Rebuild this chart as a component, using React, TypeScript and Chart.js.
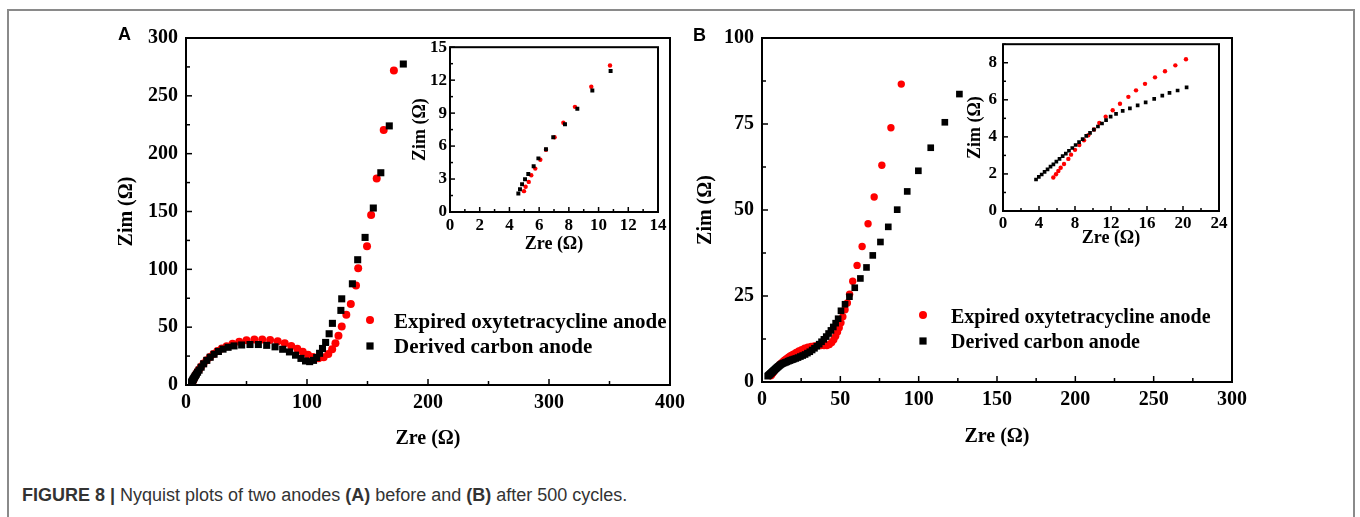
import React, { useEffect, useRef } from 'react';
import { Chart, registerables } from 'chart.js';

Chart.register(...registerables);

const SERIF = "'Liberation Serif', 'Times New Roman', Times, serif";
const SANS = "'Liberation Sans', Arial, Helvetica, sans-serif";
const RED = '#ff0000';
const BLACK = '#000000';

const seriesLabels = ['Expired oxytetracycline anode', 'Derived carbon anode'];
const xTitle = 'Zre (Ω)';
const yTitle = 'Zim (Ω)';

// ---------- Panel A (before cycling) ----------
// high-frequency points (also shown in inset A)
const aHfExpZre = [4.98, 5.09, 5.3, 5.47, 5.74, 6.08, 6.46, 7.04, 7.63, 8.41, 9.51, 10.77];
const aHfExpZim = [1.9, 2.3, 2.74, 3.34, 3.95, 4.76, 5.66, 6.8, 8.13, 9.57, 11.4, 13.34];
const aHfDerZre = [4.6, 4.71, 4.85, 5.05, 5.27, 5.63, 5.95, 6.46, 6.95, 7.74, 8.57, 9.58, 10.81];
const aHfDerZim = [1.69, 2.08, 2.53, 2.98, 3.46, 4.16, 4.88, 5.72, 6.8, 7.98, 9.4, 11.05, 12.83];
// remaining points (main plot A)
const aExpZre = [12.4, 14.5, 17, 19.8, 22.8, 26, 29.6, 33.6, 38.5, 44, 50, 56.5, 63, 69.5, 75.8, 81.6, 87, 92, 96.5, 100.8, 105, 109.5, 113.8, 117.6, 120.8, 123.5, 126, 128.7, 132.5, 136.2, 140.5, 142.3, 149.6, 153, 157.6, 163.4, 171.8];
const aExpZim = [15.8, 18.6, 21.5, 24.2, 26.8, 29.3, 31.6, 33.6, 35.6, 37.3, 38.6, 39.3, 39.4, 39, 37.8, 36, 33.8, 31.3, 28.7, 26.2, 24.2, 23.2, 24, 26.8, 31, 36.2, 42.5, 50.5, 60.8, 70, 86, 101, 120, 147, 178.6, 220.5, 272];
const aDerZre = [12.5, 14.6, 17.2, 20, 23.2, 26.8, 30.6, 34.8, 39.7, 46, 52.9, 59.8, 66.7, 73.6, 79.9, 85.5, 90.5, 95, 98.8, 102.2, 105.4, 108, 110.4, 112.8, 115.4, 118.3, 121, 128, 128.7, 137.5, 141.9, 148, 154.8, 161, 168, 179.6];
const aDerZim = [15.4, 18.3, 21.3, 24, 26.6, 29, 31, 32.6, 33.8, 34.6, 35, 35, 34.3, 33, 30.9, 28.6, 25.8, 23, 20.8, 20.2, 21.3, 23.8, 27.4, 31.6, 36.8, 44.3, 53.3, 64.5, 74.5, 87.5, 108.3, 127.6, 153, 183.5, 224, 277.5];

// ---------- Panel B (after 500 cycles) ----------
const bHfExpZre = [5.59, 5.89, 6.15, 6.41, 6.78, 7.26, 7.56, 8.0, 8.48, 9.0, 9.48, 10.11, 10.7, 11.41, 12.19, 13.0, 13.93, 14.78, 15.78, 16.89, 18.0, 19.15, 20.33];
const bHfExpZim = [1.81, 1.98, 2.16, 2.33, 2.54, 2.81, 3.04, 3.3, 3.56, 3.82, 4.09, 4.4, 4.75, 5.09, 5.44, 5.79, 6.16, 6.51, 6.86, 7.21, 7.54, 7.86, 8.19];
const bHfDerZre = [3.67, 3.98, 4.3, 4.62, 4.95, 5.28, 5.6, 5.93, 6.28, 6.63, 6.98, 7.33, 7.7, 8.07, 8.45, 8.85, 9.25, 9.67, 10.1, 10.55, 11.0, 11.45, 11.96, 12.56, 13.3, 14.1, 14.96, 15.85, 16.8, 17.7, 18.5, 19.4, 20.4];
const bHfDerZim = [1.7, 1.84, 1.97, 2.11, 2.25, 2.39, 2.52, 2.66, 2.81, 2.96, 3.1, 3.25, 3.4, 3.56, 3.72, 3.88, 4.05, 4.22, 4.39, 4.56, 4.72, 4.9, 5.09, 5.24, 5.4, 5.54, 5.7, 5.86, 6.05, 6.23, 6.37, 6.5, 6.67];
const bExpZre = [21.8, 23.5, 25.3, 27.2, 29.2, 31.3, 33.4, 35.5, 37.6, 39.6, 41.4, 43, 44.5, 45.8, 47, 48.2, 49.3, 50.4, 51.6, 53, 54.5, 55.9, 57.9, 60.7, 63.9, 67.7, 71.6, 76.5, 82.3, 88.9];
const bExpZim = [8.6, 9.0, 9.4, 9.8, 10.1, 10.3, 10.5, 10.6, 10.6, 10.6, 10.6, 10.9, 11.5, 12.3, 13.3, 14.5, 15.8, 17.2, 19, 21, 23, 25.5, 29.3, 33.9, 39.4, 46, 53.8, 63, 73.9, 86.6];
const bDerZre = [21.6, 23, 24.5, 26, 27.5, 29, 30.5, 32, 33.5, 35, 36.5, 38, 39.5, 41, 42.5, 44, 45.5, 47, 48.6, 50.4, 53, 55.8, 59.2, 62.8, 66.7, 70.7, 75.6, 80.6, 86.3, 92.7, 99.8, 107.7, 116.7, 126];
const bDerZim = [6.85, 7.1, 7.4, 7.7, 8.0, 8.4, 8.8, 9.3, 9.8, 10.4, 11.0, 11.7, 12.4, 13.2, 14.1, 15.0, 16.0, 17.1, 18.4, 20.7, 22.6, 24.8, 27.4, 30.1, 33.3, 36.8, 40.7, 45.1, 50.1, 55.4, 61.4, 68.1, 75.5, 83.7];

const pts = (xs: number[], ys: number[]) => xs.map((x, i) => ({ x, y: ys[i] }));

type AxisCfg = { min: number; max: number; minor: number; major: number };
type DS = { label: string; data: { x: number; y: number }[]; style: 'circle' | 'rect'; color: string; radius: number; order: number };
type LegendItem = { mx: number; my: number; tx: number; ty: number; style: 'circle' | 'rect'; color: string; size: number; text: string };
type PlotProps = {
  area: { l: number; t: number; r: number; b: number };
  margin: { ml: number; mt: number; mr: number; mb: number };
  x: AxisCfg;
  y: AxisCfg;
  tickFont: number;
  titleFont: number;
  titleY: number; // page y of x title center
  titleX: number; // page x of y title center
  xTickPad: number;
  yTickPad: number;
  tickLen: [number, number];
  lineW: number;
  datasets: DS[];
  legend?: LegendItem[];
  legendFont?: number;
};

const isMajor = (v: number, major: number) => Math.abs(v / major - Math.round(v / major)) < 1e-6;

function Plot(p: PlotProps) {
  const ref = useRef<HTMLCanvasElement>(null);
  const { area, margin } = p;
  const cl = area.l - margin.ml;
  const ct = area.t - margin.mt;
  const cw = area.r - area.l + margin.ml + margin.mr;
  const ch = area.b - area.t + margin.mt + margin.mb;

  useEffect(() => {
    const canvas = ref.current!;
    const lh = p.titleFont * 1.2;
    const yTitlePad = p.titleX - cl - lh / 2;
    const xTitlePad = ct + ch - lh / 2 - p.titleY;

    const framePlugin = {
      id: 'frameTicks',
      afterDraw(chart: any) {
        const { ctx, chartArea: a, scales } = chart;
        ctx.save();
        ctx.strokeStyle = BLACK;
        ctx.lineWidth = p.lineW;
        ctx.strokeRect(a.left, a.top, a.right - a.left, a.bottom - a.top);
        ctx.lineWidth = Math.max(1, p.lineW * 0.75);
        const xs = scales.x;
        xs.ticks.forEach((t: any) => {
          const px = xs.getPixelForValue(t.value);
          const L = isMajor(t.value, p.x.major) ? p.tickLen[0] : p.tickLen[1];
          ctx.beginPath();
          ctx.moveTo(px, a.bottom);
          ctx.lineTo(px, a.bottom - L);
          ctx.stroke();
        });
        const ys = scales.y;
        ys.ticks.forEach((t: any) => {
          const py = ys.getPixelForValue(t.value);
          const L = isMajor(t.value, p.y.major) ? p.tickLen[0] : p.tickLen[1];
          ctx.beginPath();
          ctx.moveTo(a.left, py);
          ctx.lineTo(a.left + L, py);
          ctx.stroke();
        });
        if (p.legend) {
          ctx.font = `bold ${p.legendFont}px ${SERIF}`;
          ctx.textBaseline = 'alphabetic';
          ctx.textAlign = 'left';
          p.legend.forEach((it) => {
            ctx.fillStyle = it.color;
            const mx = it.mx - cl;
            const my = it.my - ct;
            if (it.style === 'circle') {
              ctx.beginPath();
              ctx.arc(mx, my, it.size, 0, Math.PI * 2);
              ctx.fill();
            } else {
              ctx.fillRect(mx - it.size, my - it.size, it.size * 2, it.size * 2);
            }
            ctx.fillStyle = BLACK;
            ctx.fillText(it.text, it.tx - cl, it.ty - ct);
          });
        }
        ctx.restore();
      },
    };

    const tickFont = { family: SERIF, size: p.tickFont, weight: 'bold' as const };
    const titleFont = { family: SERIF, size: p.titleFont, weight: 'bold' as const };

    const chart = new Chart(canvas, {
      type: 'scatter',
      data: {
        datasets: p.datasets.map((d) => ({
          label: d.label,
          data: d.data,
          pointStyle: d.style,
          pointRadius: d.radius,
          pointHoverRadius: d.radius,
          backgroundColor: d.color,
          pointBackgroundColor: d.color,
          borderWidth: 0,
          pointBorderWidth: 0,
          borderColor: d.color,
          showLine: false,
          order: d.order,
        })),
      },
      options: {
        animation: false,
        responsive: false,
        maintainAspectRatio: false,
        devicePixelRatio: 1,
        events: [],
        layout: { padding: { left: 0, top: margin.mt, right: margin.mr, bottom: 0 } },
        plugins: { legend: { display: false }, tooltip: { enabled: false } },
        scales: {
          x: {
            type: 'linear',
            position: 'bottom',
            min: p.x.min,
            max: p.x.max,
            grid: { display: false, drawTicks: false, tickLength: 0 },
            border: { display: false },
            ticks: {
              stepSize: p.x.minor,
              autoSkip: false,
              maxRotation: 0,
              minRotation: 0,
              padding: p.xTickPad,
              color: BLACK,
              font: tickFont,
              callback: (v: any) => (isMajor(Number(v), p.x.major) ? String(Math.round(Number(v) * 100) / 100) : ''),
            },
            title: { display: true, text: xTitle, color: BLACK, font: titleFont, padding: { top: 0, bottom: xTitlePad } },
            afterFit: (s: any) => {
              s.height = margin.mb;
            },
          },
          y: {
            type: 'linear',
            position: 'left',
            min: p.y.min,
            max: p.y.max,
            grid: { display: false, drawTicks: false, tickLength: 0 },
            border: { display: false },
            ticks: {
              stepSize: p.y.minor,
              autoSkip: false,
              padding: p.yTickPad,
              color: BLACK,
              font: tickFont,
              callback: (v: any) => (isMajor(Number(v), p.y.major) ? String(Math.round(Number(v) * 100) / 100) : ''),
            },
            title: { display: true, text: yTitle, color: BLACK, font: titleFont, padding: { top: yTitlePad, bottom: 0 } },
            afterFit: (s: any) => {
              s.width = margin.ml;
            },
          },
        },
      } as any,
      plugins: [framePlugin],
    });
    return () => chart.destroy();
  }, []);

  return (
    <canvas
      ref={ref}
      width={cw}
      height={ch}
      style={{ position: 'absolute', left: cl, top: ct, width: cw, height: ch, display: 'block' }}
    />
  );
}

const mainDatasets = (expX: number[], expY: number[], derX: number[], derY: number[], rC: number, rS: number): DS[] => [
  { label: seriesLabels[0], data: pts(expX, expY), style: 'circle', color: RED, radius: rC, order: 2 },
  { label: seriesLabels[1], data: pts(derX, derY), style: 'rect', color: BLACK, radius: rS, order: 1 },
];

export default function App() {
  const dsA = mainDatasets(aHfExpZre.concat(aExpZre), aHfExpZim.concat(aExpZim), aHfDerZre.concat(aDerZre), aHfDerZim.concat(aDerZim), 4, 5);
  const dsAin = mainDatasets(aHfExpZre, aHfExpZim, aHfDerZre, aHfDerZim, 2.2, 2.8);
  const dsB = mainDatasets(bHfExpZre.concat(bExpZre), bHfExpZim.concat(bExpZim), bHfDerZre.concat(bDerZre), bHfDerZim.concat(bDerZim), 3.7, 4.7);
  const dsBin = mainDatasets(bHfExpZre, bHfExpZim, bHfDerZre, bHfDerZim, 2.2, 2.6);

  const legendA: LegendItem[] = [
    { mx: 370, my: 320, tx: 394, ty: 328, style: 'circle', color: RED, size: 4, text: seriesLabels[0] },
    { mx: 370, my: 346, tx: 394, ty: 353, style: 'rect', color: BLACK, size: 3.6, text: seriesLabels[1] },
  ];
  const legendB: LegendItem[] = [
    { mx: 923, my: 315, tx: 951, ty: 323, style: 'circle', color: RED, size: 4, text: seriesLabels[0] },
    { mx: 923, my: 341, tx: 951, ty: 348, style: 'rect', color: BLACK, size: 3.6, text: seriesLabels[1] },
  ];

  return (
    <div style={{ position: 'absolute', left: 0, top: 0, width: 1360, height: 517, background: '#fff', overflow: 'hidden' }}>
      <div
        style={{
          position: 'absolute',
          left: 7,
          top: 9,
          width: 1348,
          height: 520,
          borderLeft: '2px solid #8a8a8a',
          borderTop: '2px solid #8a8a8a',
          borderRight: '2px solid #8a8a8a',
          boxSizing: 'border-box',
        }}
      />
      <Plot
        area={{ l: 186, t: 34, r: 670, b: 385 }}
        margin={{ ml: 80, mt: 16, mr: 22, mb: 70 }}
        x={{ min: 0, max: 400, minor: 50, major: 100 }}
        y={{ min: 0, max: 300, minor: 25, major: 50 }}
        tickFont={20}
        titleFont={20}
        titleX={127}
        titleY={439}
        xTickPad={6}
        yTickPad={8}
        tickLen={[6, 4]}
        lineW={2}
        datasets={dsA}
        legend={legendA}
        legendFont={21}
      />
      <Plot
        area={{ l: 450, t: 46, r: 658, b: 212 }}
        margin={{ ml: 45, mt: 12, mr: 12, mb: 45 }}
        x={{ min: 0, max: 14, minor: 1, major: 2 }}
        y={{ min: 0, max: 15, minor: 1.5, major: 3 }}
        tickFont={17}
        titleFont={18}
        titleX={420}
        titleY={244}
        xTickPad={3}
        yTickPad={3}
        tickLen={[5, 3]}
        lineW={2}
        datasets={dsAin}
      />
      <Plot
        area={{ l: 762, t: 34, r: 1232, b: 382 }}
        margin={{ ml: 80, mt: 16, mr: 22, mb: 70 }}
        x={{ min: 0, max: 300, minor: 25, major: 50 }}
        y={{ min: 0, max: 100, minor: 12.5, major: 25 }}
        tickFont={20}
        titleFont={20}
        titleX={706}
        titleY={437}
        xTickPad={6}
        yTickPad={8}
        tickLen={[6, 4]}
        lineW={2}
        datasets={dsB}
        legend={legendB}
        legendFont={20}
      />
      <Plot
        area={{ l: 1003, t: 40, r: 1219, b: 211 }}
        margin={{ ml: 40, mt: 12, mr: 12, mb: 40 }}
        x={{ min: 0, max: 24, minor: 2, major: 4 }}
        y={{ min: 0, max: 9, minor: 1, major: 2 }}
        tickFont={17}
        titleFont={18}
        titleX={975}
        titleY={238}
        xTickPad={2}
        yTickPad={6}
        tickLen={[5, 3]}
        lineW={2}
        datasets={dsBin}
      />
      <div style={{ position: 'absolute', left: 118, top: 25, fontFamily: SANS, fontWeight: 'bold', fontSize: 18, lineHeight: '18px', color: '#000' }}>A</div>
      <div style={{ position: 'absolute', left: 693, top: 26, fontFamily: SANS, fontWeight: 'bold', fontSize: 18, lineHeight: '18px', color: '#000' }}>B</div>
      <div
        style={{
          position: 'absolute',
          left: 22,
          top: 486,
          fontFamily: SANS,
          fontSize: 18,
          lineHeight: '18px',
          color: '#333',
          whiteSpace: 'nowrap',
        }}
      >
        <b>FIGURE 8 |</b> Nyquist plots of two anodes <b>(A)</b> before and <b>(B)</b> after 500 cycles.
      </div>
    </div>
  );
}
